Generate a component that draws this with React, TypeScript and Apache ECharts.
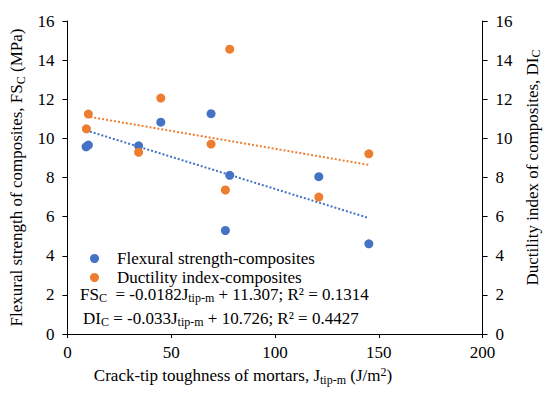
import React, { useEffect, useRef } from "react";
import * as echarts from "echarts";

const fsX = [9.0, 10.1, 34.3, 45.0, 69.2, 78.2, 76.1, 121.1, 145.2];
const fsY = [9.57, 9.66, 9.62, 10.83, 11.26, 8.11, 5.29, 8.04, 4.61];
const diX = [10.1, 9.15, 34.3, 45.0, 69.2, 78.2, 76.1, 121.1, 145.2];
const diY = [11.24, 10.49, 9.29, 12.06, 9.71, 14.56, 7.36, 7.0, 9.21];
const xTicks = [0, 50, 100, 150, 200];
const yTicks = [0, 2, 4, 6, 8, 10, 12, 14, 16];

const seriesNames = ["Flexural strength-composites", "Ductility index-composites"];
const BLUE = "#4472C4";
const ORANGE = "#ED7D31";
const FONT = "Liberation Serif";

function fit(xs: number[], ys: number[]) {
  const n = xs.length;
  const mx = xs.reduce((a, b) => a + b, 0) / n;
  const my = ys.reduce((a, b) => a + b, 0) / n;
  let sxy = 0, sxx = 0;
  for (let i = 0; i < n; i++) {
    sxy += (xs[i] - mx) * (ys[i] - my);
    sxx += (xs[i] - mx) * (xs[i] - mx);
  }
  const b = sxy / sxx;
  const a = my - b * mx;
  const x0 = Math.min(...xs);
  const x1 = Math.max(...xs);
  return [[x0, a + b * x0], [x1, a + b * x1]];
}

export default function App() {
  const ref = useRef<HTMLDivElement>(null);
  useEffect(() => {
    document.body.style.margin = "0";
    const chart = echarts.init(ref.current!, null, { renderer: "svg" });
    const rich = {
      n: { fontFamily: FONT, fontSize: 17, color: "#000", lineHeight: 20, verticalAlign: "middle" },
      s: { fontFamily: FONT, fontSize: 12, color: "#000", lineHeight: 10, verticalAlign: "bottom" },
      p: { fontFamily: FONT, fontSize: 12, color: "#000", lineHeight: 10, verticalAlign: "top" },
      t: { fontFamily: FONT, fontSize: 17, color: "#000" },
    };
    const eqRich = {
      n: { fontFamily: FONT, fontSize: 17, color: "#000", lineHeight: 18, verticalAlign: "middle" },
      s: { fontFamily: FONT, fontSize: 12, color: "#000", lineHeight: 10, verticalAlign: "bottom" },
    };
    const tickFmt = (v: number) => `{t|${v}}`;
    const yAxisCommon = {
      type: "value",
      min: yTicks[0],
      max: yTicks[yTicks.length - 1],
      interval: 2,
      splitLine: { show: false },
      axisLine: { show: true, lineStyle: { color: "#000", width: 1 } },
      axisTick: { show: true, length: 5, lineStyle: { color: "#000" } },
      axisLabel: { color: "#000", fontFamily: FONT, fontSize: 17, margin: 13, formatter: tickFmt, rich },
      nameLocation: "middle",
      nameRotate: 90,
    };
    chart.setOption({
      animation: false,
      textStyle: { fontFamily: FONT },
      grid: { left: 63, right: 66, top: 21, bottom: 63 },
      xAxis: {
        type: "value",
        min: xTicks[0],
        max: xTicks[xTicks.length - 1],
        interval: 50,
        splitLine: { show: false },
        axisLine: { show: true, lineStyle: { color: "#000", width: 1 } },
        axisTick: { show: true, length: 4, lineStyle: { color: "#000" } },
        axisLabel: { color: "#000", fontFamily: FONT, fontSize: 17, margin: 10, formatter: tickFmt, rich },
        name: "{n|Crack-tip toughness of mortars, J}{s|tip-m}{n| (J/m}{p|2}{n|)}",
        nameLocation: "middle",
        nameGap: 30,
        nameTextStyle: { rich, padding: [0, 64, 0, 0] },
      },
      yAxis: [
        {
          ...yAxisCommon,
          position: "left",
          name: "{n|Flexural strength of composites, FS}{s|C}{n| (MPa)}",
          nameGap: 37,
          nameTextStyle: { rich },
        },
        {
          ...yAxisCommon,
          position: "right",
          name: "{n|Ductility index of composites, DI}{s|C}",
          nameGap: 31,
          nameTextStyle: { rich, padding: [0, 0, 0, 20] },
        },
      ],
      legend: {
        data: seriesNames,
        orient: "vertical",
        left: 85,
        top: 245,
        icon: "circle",
        itemWidth: 9,
        itemHeight: 9,
        itemGap: 2,
        textStyle: { fontFamily: FONT, fontSize: 17, color: "#000", padding: [0, 0, 0, 13], lineHeight: 17 },
      },
      graphic: [
        {
          type: "text",
          left: 80,
          top: 286,
          style: {
            text: "{n|FS}{s|C}{n|  = -0.0182J}{s|tip-m}{n| + 11.307; R² = 0.1314}",
            rich: eqRich,
          },
        },
        {
          type: "text",
          left: 83,
          top: 310,
          style: {
            text: "{n|DI}{s|C}{n| = -0.033J}{s|tip-m}{n| + 10.726; R² = 0.4427}",
            rich: eqRich,
          },
        },
      ],
      series: [
        {
          name: seriesNames[0],
          type: "scatter",
          symbolSize: 9,
          itemStyle: { color: BLUE, opacity: 1 },
          data: fsX.map((x, i) => [x, fsY[i]]),
        },
        {
          name: seriesNames[1],
          type: "scatter",
          symbolSize: 9,
          itemStyle: { color: ORANGE, opacity: 1 },
          data: diX.map((x, i) => [x, diY[i]]),
        },
        {
          name: "fs-trend",
          type: "line",
          symbol: "none",
          lineStyle: { color: BLUE, type: "dotted", width: 2 },
          data: fit(fsX, fsY),
          z: 1,
        },
        {
          name: "di-trend",
          type: "line",
          symbol: "none",
          lineStyle: { color: ORANGE, type: "dotted", width: 2 },
          data: fit(diX, diY),
          z: 1,
        },
      ],
    });
    return () => chart.dispose();
  }, []);
  return <div ref={ref} style={{ width: 550, height: 397 }} />;
}
